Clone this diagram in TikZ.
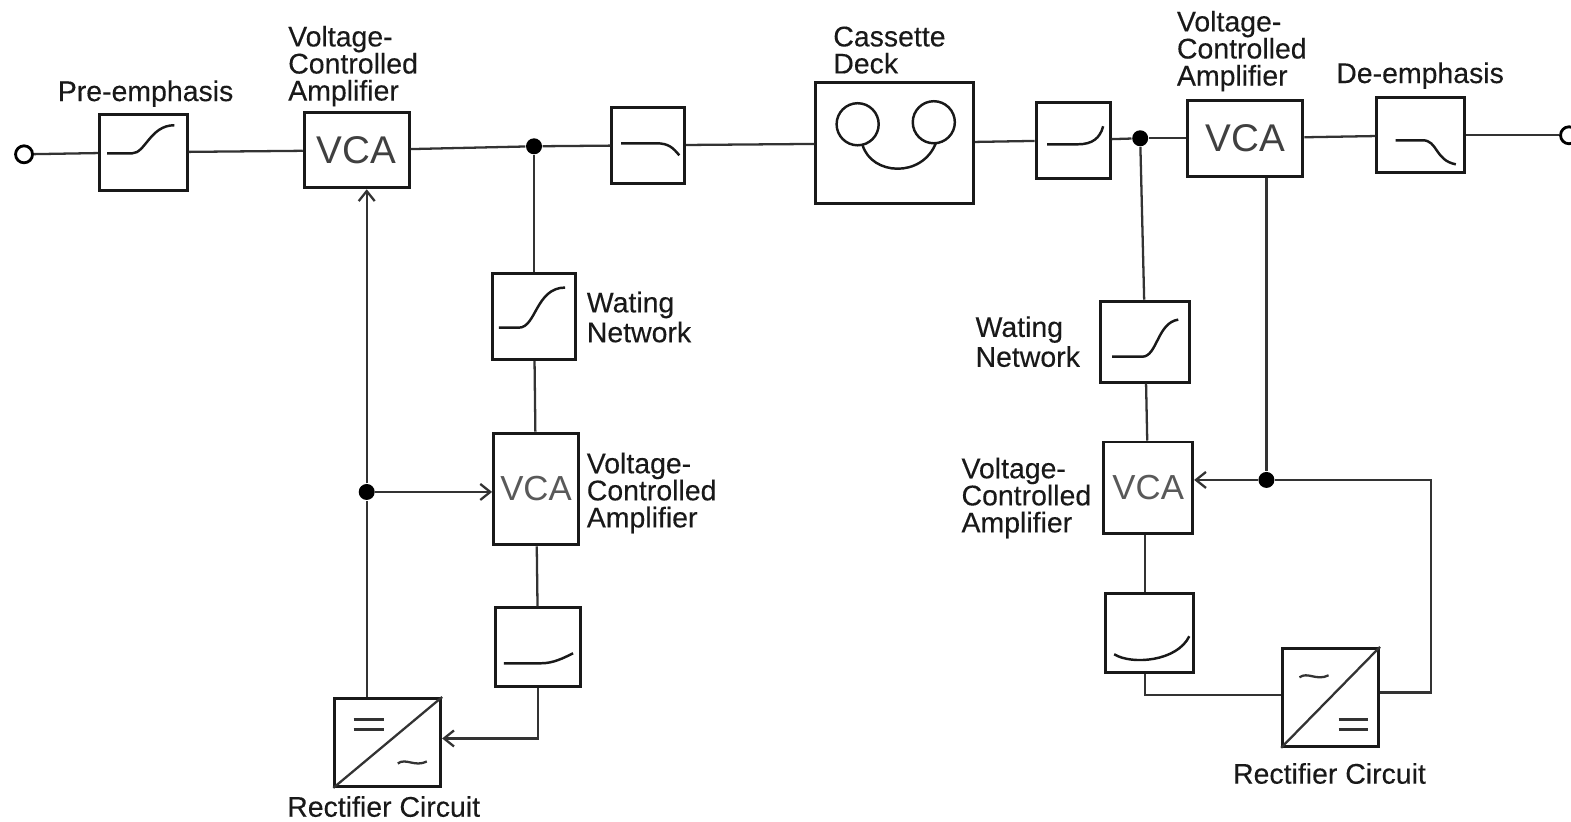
\documentclass[tikz,border=0pt]{standalone}
\usepackage{fontspec}
\setmainfont{Liberation Sans}
\newfontfamily\labfont[FakeBold=0.25]{Liberation Sans}
\usetikzlibrary{arrows.meta}
\tikzset{
    blk/.style 2 args={draw=black!90,line width=0.85pt,inner sep=0pt,minimum width=0.01cm*#1,minimum height=0.01cm*#2},
    wire/.style={draw=black!80,line width=0.65pt},
    trace/.style={draw=black!90,line width=0.7pt},
    dot/.style={circle,fill=black,inner sep=0pt,minimum size=0.16cm},
    port/.style={circle,draw=black,line width=0.8pt,inner sep=0pt,minimum size=0.17cm},
    lab/.style={align=left,anchor=west,inner sep=0pt,text=black!90,font=\labfont\fontsize{8.1}{7.7}\selectfont},
    vcabig/.style={text=black!75,font=\fontsize{11}{11}\selectfont},
    vcasmall/.style={text=black!65,font=\fontsize{9.9}{10}\selectfont}
}
\begin{document}
\begin{tikzpicture}[x=0.01002cm,y=-0.01002cm,>={Straight Barb[length=1mm,width=1.6mm]}]
    \useasboundingbox (0,0) rectangle (1568,820);

    % Main signal chain
    \node[port] (inp) at (24,154) {};
    \node[blk={88}{76}] (pre) at (143,152) {};
    \node[blk={105}{75},vcabig] (vcaA) at (356,150) {VCA};
    \node[dot] (jA) at (533,146) {};
    \node[blk={73}{76}] (fltA) at (647,145) {};
    \node[blk={158}{121}] (deck) at (893,143) {};
    \node[blk={74}{76}] (fltB) at (1071,140) {};
    \node[dot] (jB) at (1138,138) {};
    \node[blk={115}{76},vcabig] (vcaB) at (1243,138) {VCA};
    \node[blk={88}{75}] (dee) at (1418,135) {};
    \node[port] (outp) at (1566,135) {};

    % Left side chain
    \node[blk={84}{86}] (watL) at (533,316) {};
    \node[blk={85}{112},vcasmall] (vcaL) at (535,488) {VCA};
    \node[blk={85}{79}] (fltL) at (537,646) {};
    \node[blk={106}{88}] (rectL) at (387,741) {};
    \node[dot] (jC) at (366,491) {};

    % Right side chain
    \node[blk={89}{81}] (watR) at (1143,341) {};
    \node[blk={89}{92},vcasmall] (vcaR) at (1146,487) {VCA};
    \node[blk={88}{79}] (fltR) at (1147,632) {};
    \node[blk={96}{98}] (rectR) at (1328,696) {};
    \node[dot] (jD) at (1264,479) {};
    \coordinate (busR) at (1143,600);
    \coordinate (cornerR) at (1428,479);

    % Labels
    \node[lab] (preLab) at (57,93.5) {Pre-emphasis};
    \node[lab] (vcaALab) at (287,66) {Voltage-\\Controlled\\Amplifier};
    \node[lab] (deckLab) at (831,50) {Cassette\\Deck};
    \node[lab] (vcaBLab) at (1174,51) {Voltage-\\Controlled\\Amplifier};
    \node[lab] (deeLab) at (1333,75.5) {De-emphasis};
    \node[lab] (watLLab) at (585,316.5) {Wating\\[0.8pt]Network};
    \node[lab] (vcaLLab) at (585,492) {Voltage-\\Controlled\\Amplifier};
    \node[lab] (rectLLab) at (286,805) {Rectifier Circuit};
    \node[lab] (watRLab) at (973,341) {Wating\\[0.8pt]Network};
    \node[lab] (vcaRLab) at (959,497) {Voltage-\\Controlled\\Amplifier};
    \node[lab] (rectRLab) at (1230,772) {Rectifier Circuit};

    % Main connectors
    \draw[wire] (inp) -- (pre);
    \draw[wire] (pre) -- (vcaA);
    \draw[wire] (vcaA) -- (jA);
    \draw[wire] (jA) -- (fltA);
    \draw[wire] (fltA) -- (deck);
    \draw[wire] (deck) -- (fltB);
    \draw[wire] (fltB) -- (jB);
    \draw[wire] (jB) -- (vcaB);
    \draw[wire] (vcaB) -- (dee);
    \draw[wire] (dee) -- (outp);

    % Left loop
    \draw[wire] (jA) -- (watL);
    \draw[wire] (watL) -- (vcaL);
    \draw[wire] (vcaL) -- (fltL);
    \draw[wire,->] (fltL.south) |- ([yshift=0.04cm]rectL.east);
    \draw[wire] (rectL.north -| jC) -- (jC);
    \draw[wire,->] (jC) -- (vcaA.south -| jC);
    \draw[wire,->] (jC) -- (vcaL.west |- jC);

    % Right loop
    \draw[wire] (jB) -- (watR);
    \draw[wire] (watR) -- (vcaR);
    \draw[wire] (vcaR.south -| busR) -- (fltR.north -| busR);
    \draw[wire] (fltR.south -| busR) |- ([yshift=0.02cm]rectR.west);
    \draw[wire] ([yshift=0.05cm]rectR.east) -| (cornerR) -- (jD);
    \draw[wire] (vcaB.south -| jD) -- (jD);
    \draw[wire,->] (jD) -- (vcaR.east |- jD);

    % Filter curves
    \draw[trace] (107,153) -- (132,153) .. controls (145,153) and (150,125) .. (174,125);
    \draw[trace] (620,143) -- (655,143) .. controls (668,143) and (672,148) .. (678,155);
    \draw[trace] (1045,144) -- (1076,144) .. controls (1090,144) and (1098,138) .. (1101,126);
    \draw[trace] (1393,140) -- (1420,140) .. controls (1435,140) and (1432,160) .. (1453,164);
    \draw[trace] (498,327) -- (518,327) .. controls (535,327) and (535,287) .. (564,287);
    \draw[trace] (1110,356) -- (1140,356) .. controls (1155,356) and (1155,322) .. (1176,319);
    \draw[trace] (503,662) -- (540,662) .. controls (552,662) and (562,657) .. (572,652);
    \draw[trace] (1112,653) .. controls (1130,664) and (1175,660) .. (1187,635);

    % Tape reels
    \draw[trace] (856,124) circle (21);
    \draw[trace] (932,122) circle (21);
    \draw[trace] (861,145) .. controls (870,175) and (920,178) .. (934,143);

    % Rectifier marks
    \draw[wire] (rectL.south west) -- (rectL.north east);
    \draw[wire] (353,718) -- (383,718) (353,728) -- (383,728);
    \draw[wire] (397,762) .. controls (405,756) and (414,766) .. (426,760);
    \draw[wire] (rectR.south west) -- (rectR.north east);
    \draw[wire] (1297,676) .. controls (1305,670) and (1314,680) .. (1326,674);
    \draw[wire] (1336,718) -- (1365,718) (1336,728) -- (1365,728);
\end{tikzpicture}
\end{document}
